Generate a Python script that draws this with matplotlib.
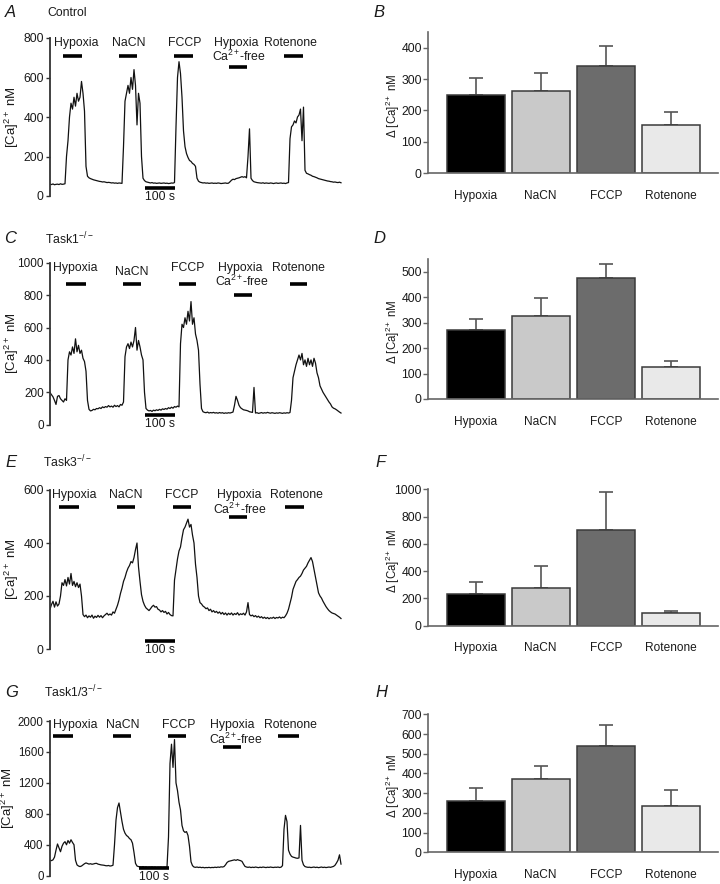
import matplotlib.pyplot as plt
import numpy as np

plt.rcParams['font.family'] = ['Liberation Sans', 'DejaVu Sans']
plt.rcParams['mathtext.fontset'] = 'custom'
plt.rcParams['mathtext.rm'] = 'Liberation Sans'
plt.rcParams['mathtext.it'] = 'Liberation Sans:italic'
plt.rcParams['mathtext.bf'] = 'Liberation Sans:bold'

# ---- traces: [Ca]2+ (nM), one sample every 5 s ----
dt = 5
ca_control = [
    60, 58, 61, 57, 59, 60, 58, 62, 59, 60, 62, 200, 280, 400, 470, 440, 500, 455, 520, 480,
    500, 580, 520, 430, 150, 100, 92, 88, 85, 82, 80, 78, 76, 74, 73, 71, 72, 70, 68, 69,
    68, 66, 67, 65, 66, 64, 66, 65, 64, 250, 480, 520, 560, 520, 600, 540, 640, 560, 360, 520,
    470, 200, 90, 78, 72, 70, 68, 66, 68, 65, 66, 64, 65, 66, 64, 65, 66, 64, 65, 63,
    64, 66, 65, 68, 350, 600, 680, 620, 500, 330, 250, 215, 195, 180, 175, 165, 160, 150, 90, 75,
    70, 68, 66, 67, 65, 66, 64, 65, 66, 64, 65, 64, 66, 65, 63, 64, 65, 66, 64, 65,
    72, 80, 85, 83, 88, 90, 92, 95, 98, 95, 98, 92, 200, 340, 90, 78, 72, 70, 68, 67,
    66, 65, 67, 64, 66, 65, 64, 66, 65, 63, 65, 66, 64, 65, 66, 64, 65, 63, 66, 68,
    290, 350, 360, 380, 370, 400, 410, 440, 280, 450, 130, 115, 112, 108, 105, 100, 98, 95, 92, 88,
    86, 84, 82, 80, 78, 76, 75, 73, 72, 70, 71, 69, 68, 70, 67]

ca_task1 = [
    198, 185, 172, 150, 125, 175, 180, 160, 150, 140, 160, 150, 400, 450, 430, 480, 440, 530, 450, 490,
    440, 460, 410, 390, 330, 150, 95, 85, 88, 95, 92, 100, 98, 105, 100, 110, 105, 112, 108, 118,
    110, 115, 108, 120, 112, 118, 110, 125, 120, 140, 420, 480, 500, 470, 510, 480, 520, 600, 460, 520,
    480, 430, 400, 200, 100, 90, 85, 88, 82, 90, 86, 92, 88, 95, 90, 98, 94, 100, 96, 105,
    100, 108, 102, 112, 108, 115, 110, 500, 620, 600, 660, 620, 700, 640, 760, 620, 660, 560, 520, 460,
    250, 100, 80, 76, 74, 78, 72, 75, 73, 76, 72, 74, 71, 75, 72, 74, 70, 73, 71, 74,
    72, 75, 78, 120, 175, 150, 120, 105, 98, 92, 90, 88, 85, 80, 78, 76, 230, 72, 74, 70,
    72, 75, 71, 74, 72, 76, 73, 71, 74, 72, 70, 73, 71, 74, 72, 70, 73, 71, 74, 72,
    75, 150, 290, 330, 370, 400, 430, 400, 440, 370, 400, 360, 410, 370, 400, 360, 410, 380, 320, 290,
    240, 220, 200, 185, 170, 155, 140, 128, 110, 102, 98, 92, 85, 78, 72]

ca_task3 = [
    150, 168, 180, 158, 178, 162, 170, 200, 250, 240, 262, 238, 270, 245, 285, 240, 255, 235, 250, 232,
    245, 200, 130, 122, 128, 118, 125, 120, 128, 116, 124, 119, 127, 120, 126, 118, 125, 130, 135, 128,
    132, 128, 140, 135, 150, 165, 185, 210, 230, 255, 270, 290, 305, 315, 330, 325, 345, 375, 400, 310,
    255, 205, 180, 165, 155, 150, 145, 152, 160, 165, 158, 160, 150, 147, 140, 145, 138, 142, 132, 138,
    130, 126, 125, 260, 300, 340, 370, 385, 420, 450, 460, 475, 490, 460, 470, 430, 400, 320, 270, 200,
    175, 170, 162, 158, 152, 155, 145, 150, 140, 145, 138, 142, 135, 140, 132, 138, 130, 136, 128, 135,
    130, 136, 128, 134, 130, 137, 128, 133, 130, 135, 128, 140, 175, 130, 125, 128, 122, 126, 120, 124,
    118, 122, 116, 120, 115, 119, 114, 118, 116, 120, 115, 119, 117, 121, 116, 120, 118, 125, 135, 150,
    172, 195, 225, 240, 255, 262, 270, 275, 285, 298, 305, 312, 325, 335, 345, 330, 300, 270, 240, 212,
    200, 192, 180, 170, 160, 152, 145, 140, 136, 134, 132, 128, 124, 120, 115]

ca_task13 = [
    200, 195, 205, 240, 330, 410, 360, 310, 380, 420, 440, 400, 455, 420, 465, 430, 400, 200, 140, 125,
    118, 125, 140, 155, 165, 158, 150, 155, 148, 152, 158, 160, 150, 145, 140, 138, 135, 130, 128, 132,
    125, 128, 135, 400, 720, 880, 940, 820, 700, 600, 550, 520, 505, 480, 465, 420, 300, 160, 125, 118,
    115, 112, 118, 110, 115, 108, 112, 110, 114, 108, 112, 106, 110, 108, 112, 106, 110, 108, 112, 500,
    1450, 1700, 1400, 1760, 1200, 1100, 950, 850, 650, 580, 560, 570, 520, 380, 180, 130, 112, 108, 112, 106,
    110, 104, 108, 102, 106, 104, 108, 103, 107, 105, 110, 106, 112, 108, 115, 112, 118, 140, 170, 185,
    190, 195, 200, 205, 198, 208, 200, 195, 185, 150, 120, 112, 108, 112, 105, 110, 106, 112, 108, 104,
    110, 106, 112, 108, 105, 110, 107, 112, 108, 106, 110, 108, 112, 106, 110, 130, 600, 780, 700, 330,
    280, 250, 240, 235, 228, 225, 230, 650, 200, 140, 118, 112, 108, 110, 105, 108, 112, 106, 110, 104,
    108, 112, 106, 110, 105, 108, 112, 108, 114, 120, 135, 165, 200, 270, 150]

# stimulus application windows (s): Hypoxia, NaCN, FCCP, Hypoxia Ca-free, Rotenone
stim_on_control = [43, 231, 414, 598, 780]
stim_off_control = [107, 291, 476, 656, 842]
stim_on_task1 = [53, 244, 430, 614, 800]
stim_off_task1 = [120, 304, 487, 672, 858]
stim_on_task3 = [31, 222, 409, 598, 783]
stim_off_task3 = [98, 283, 470, 656, 847]
stim_on_task13 = [11, 211, 394, 578, 761]
stim_off_task13 = [76, 270, 453, 637, 830]
stim_names = ['Hypoxia', 'NaCN', 'FCCP', 'Hypoxia', 'Rotenone']

# ---- summary bars: delta [Ca]2+ (nM), mean and SEM ----
categories = ['Hypoxia', 'NaCN', 'FCCP', 'Rotenone']
mean_control = [248, 263, 340, 152]
sem_control = [54, 56, 65, 43]
mean_task1 = [272, 327, 476, 127]
sem_task1 = [44, 68, 55, 21]
mean_task3 = [230, 274, 702, 91]
sem_task3 = [93, 164, 277, 19]
mean_task13 = [262, 372, 538, 235]
sem_task13 = [66, 65, 106, 83]

W, H = 720, 884
fig = plt.figure(figsize=(W / 100, H / 100), dpi=100)
TXT = '#1a1a1a'


def px_axes(left, top, right, bottom):
    return fig.add_axes([left / W, 1 - bottom / H, (right - left) / W, (bottom - top) / H])


def trace_panel(top, bottom, vals, ymax, ystep, on, off, bar_y, ca_bar_y,
                lab_x, lab_y, ca_txt, scale_t, scale_y, ylab_x=-0.127, tick_fs=8.8):
    ax = px_axes(50, top, 350, bottom)
    t = np.arange(len(vals)) * dt
    ax.plot(t, vals, color='#111111', lw=0.9)
    ax.set_xlim(0, 1000)
    ax.set_ylim(0, ymax)
    ax.set_yticks(np.arange(0, ymax + 1, ystep))
    for s in ['top', 'right', 'bottom']:
        ax.spines[s].set_visible(False)
    ax.spines['left'].set_color('#333333')
    ax.spines['left'].set_linewidth(1.3)
    ax.set_xticks([])
    ax.tick_params(axis='y', length=3, width=1, color='#333333', labelsize=tick_fs,
                   labelcolor=TXT, pad=1.5)
    ax.set_ylabel('[Ca]$^{2+}$ nM', fontsize=9.5, color=TXT, va='center')
    ax.yaxis.set_label_coords(ylab_x, 0.5)
    for i in range(5):
        yb = ca_bar_y if i == 3 else bar_y
        ax.plot([on[i], off[i]], [yb, yb], color='black', lw=2.6,
                solid_capstyle='butt', clip_on=False)
        ax.text(lab_x[i], lab_y[i], stim_names[i], ha='center', va='center',
                fontsize=8.8, color=TXT, clip_on=False)
    ax.text(lab_x[5], ca_txt, r'Ca$^{2+}\!$-free', ha='center', va='center',
            fontsize=8.8, color=TXT, clip_on=False)
    ax.plot(scale_t, [scale_y, scale_y], color='black', lw=2.6,
            solid_capstyle='butt', clip_on=False)
    ax.annotate('100 s', xy=(np.mean(scale_t), scale_y), xytext=(0, -6.5),
                textcoords='offset points', ha='center', va='center',
                fontsize=8.8, color=TXT, annotation_clip=False)
    return ax


def bar_panel(top, bottom, means, sems, ymax, ystep):
    ax = px_axes(428, top, 718, bottom)
    x = np.arange(len(categories))
    ax.bar(x, means, width=0.89, color=['#000000', '#c9c9c9', '#6c6c6c', '#e9e9e9'],
           edgecolor='#3a3a3a', linewidth=1.1, zorder=2)
    ax.errorbar(x, means, yerr=[np.zeros(len(sems)), sems], fmt='none',
                ecolor='#555555', elinewidth=1.2, capsize=5, capthick=1.2, zorder=1)
    ax.set_xlim(-0.73, 3.72)
    ax.set_ylim(0, ymax)
    ax.set_yticks(np.arange(0, ymax + 1, ystep))
    ax.set_xticks(x)
    ax.set_xticklabels(categories)
    for s in ['top', 'right']:
        ax.spines[s].set_visible(False)
    for s in ['left', 'bottom']:
        ax.spines[s].set_color('#666666')
        ax.spines[s].set_linewidth(1.2)
    ax.tick_params(axis='x', length=0, pad=12, labelsize=8.6, labelcolor=TXT)
    ax.tick_params(axis='y', length=3.5, width=1, color='#666666', labelsize=8.8,
                   labelcolor=TXT, pad=1)
    ax.set_ylabel('Δ [Ca]$^{2+}$ nM', fontsize=8.3, color=TXT, va='center')
    ax.yaxis.set_label_coords(-0.12, 0.48)
    return ax


# A / B : control
trace_panel(38, 196, ca_control, 800, 200, stim_on_control, stim_off_control, 709, 655,
            [87, 261, 450, 622, 800, 631], [776] * 5, 709, [317, 417], 42)
bar_panel(32, 173, mean_control, sem_control, 450, 100)

# C / D : Task1-/-
trace_panel(262.7, 424.7, ca_task1, 1000, 200, stim_on_task1, stim_off_task1, 867, 800,
            [84, 272, 458, 633, 828, 641], [965, 944, 965, 965, 965], 887, [317, 417], 60,
            tick_fs=8.5)
bar_panel(259, 399, mean_task1, sem_task1, 550, 100)

# E / F : Task3-/-
trace_panel(490, 649, ca_task3, 600, 200, stim_on_task3, stim_off_task3, 537, 497,
            [82, 253, 439, 631, 822, 633], [581] * 5, 527, [317, 417], 30)
bar_panel(489.3, 625.7, mean_task3, sem_task3, 1000, 200)

# G / H : Task1/3-/-
trace_panel(721, 875.7, ca_task13, 2000, 400, stim_on_task13, stim_off_task13, 1806, 1668,
            [83, 242, 428, 608, 802, 619], [1948] * 5, 1763, [297, 395], 96,
            ylab_x=-0.14, tick_fs=8.3)
bar_panel(714.3, 852.3, mean_task13, sem_task13, 700, 100)

# panel letters and genotype titles
letters = [('A', 5, 12.7), ('B', 373, 12.7), ('C', 4, 239), ('D', 373, 239),
           ('E', 5, 462.7), ('F', 375, 462.7), ('G', 5, 692.7), ('H', 375, 692.7)]
for s, x, y in letters:
    fig.text(x / W, 1 - y / H, s, fontsize=12, style='italic', color=TXT,
             ha='left', va='center')

titles = [('Control', 47, 12.7), ('Task1$^{-/-}$', 45, 239),
          ('Task3$^{-/-}$', 43, 462), ('Task1/3$^{-/-}$', 44, 692)]
for s, x, y in titles:
    fig.text(x / W, 1 - y / H, s, fontsize=8.8, color=TXT, ha='left', va='center')

fig.savefig('out.png', dpi=100)
